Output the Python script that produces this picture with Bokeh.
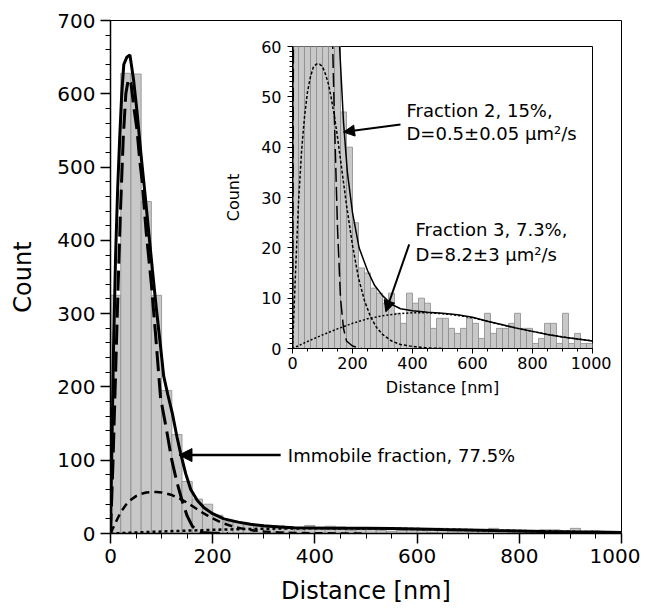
from bokeh.plotting import figure
from bokeh.models import ColumnDataSource, SingleIntervalTicker, Label, Arrow, NormalHead, Range1d
from bokeh.layouts import column
from bokeh.embed import file_html
from bokeh.resources import INLINE

FONT = "DejaVu Sans"

# ---- data ----
bin_width = 20
bin_left = list(range(0, 1000, 20))
counts = [325, 628, 627, 453, 325, 195, 135, 71, 47, 40,
          25, 16, 15, 12, 11, 9, 11, 7, 5, 11,
          9, 10, 9, 4, 6, 6, 4, 3, 4, 6,
          5, 2, 7, 3, 4, 4, 5, 7, 4, 4,
          1, 2, 5, 5, 1, 7, 1, 3, 1, 1]

total_x = [0, 3, 6, 10, 14, 18, 22, 26, 32, 38, 45, 52, 60, 68, 75, 82, 90, 98, 104, 112, 121,
           130, 137, 147, 157, 170, 183, 200, 222, 250, 274, 300, 330, 360, 400, 450, 500,
           550, 600, 650, 700, 750, 800, 850, 900, 950, 1000]
total_y = [0, 130, 255, 380, 470, 540, 600, 640, 650, 653, 620, 575, 515, 460, 410, 360, 305, 255, 215, 190, 164,
           132, 110, 82, 60, 45, 35, 27, 20, 15.5, 12.5, 10.5, 8.8, 7.9, 7.5, 7.2, 7.0,
           6.7, 6.2, 5.4, 4.7, 4.0, 3.4, 2.8, 2.3, 1.9, 1.5]

immobile_x = [0, 5, 10, 15, 20, 25, 30, 35, 40, 46, 52, 57, 62, 70, 80, 88, 98, 110, 120, 130,
              140, 150, 160, 170, 180, 200, 230]
immobile_y = [0, 100, 220, 340, 450, 540, 600, 620, 615, 580, 550, 510, 480, 410, 340, 273, 185, 140, 100, 70,
              45, 24, 10, 4, 1.5, 0.5, 0]

frac2_x = [0, 10, 20, 30, 40, 50, 60, 70, 80, 90, 100, 110, 120, 130, 140, 150, 160, 170, 180, 190,
           200, 220, 240, 260, 280, 300, 330, 360, 400, 450, 500]
frac2_y = [0, 15, 29, 39, 46, 51, 54, 56, 56.5, 56.5, 56, 54.5, 52.5, 49.5, 46, 42, 37.5, 33, 28.5, 24.5,
           20.5, 14, 9.5, 6.3, 4.2, 2.8, 1.5, 0.8, 0.4, 0.1, 0]

frac3_x = [0, 50, 100, 150, 200, 250, 300, 350, 400, 450, 500, 550, 600, 650, 700, 750, 800,
           850, 900, 950, 1000]
frac3_y = [0, 1.4, 2.7, 3.9, 5.0, 5.9, 6.5, 6.9, 7.1, 7.1, 6.9, 6.6, 6.1, 5.4, 4.7, 4.0, 3.4,
           2.8, 2.3, 1.9, 1.5]

hist = ColumnDataSource(dict(left=bin_left,
                             right=[b + bin_width for b in bin_left],
                             count=counts))


def style(p, tick_px, label_px, tick_out, minor_out, lw):
    p.grid.visible = False
    p.outline_line_color = "black"
    p.outline_line_width = 1
    p.background_fill_color = "white"
    for ax in (p.xaxis[0], p.yaxis[0]):
        ax.major_label_text_font = FONT
        ax.major_label_text_font_size = tick_px
        ax.major_label_text_color = "black"
        ax.axis_label_text_font = FONT
        ax.axis_label_text_font_size = label_px
        ax.axis_label_text_font_style = "normal"
        ax.axis_label_text_color = "black"
        ax.major_tick_in = 0
        ax.major_tick_out = tick_out
        ax.minor_tick_in = 0
        ax.minor_tick_out = minor_out
        ax.axis_line_width = lw
        ax.major_tick_line_width = lw
        ax.minor_tick_line_width = 1
        ax.axis_line_color = "black"


# ---- main figure ----
p = figure(width=640, height=611, x_range=Range1d(0, 1000), y_range=Range1d(0, 700),
           output_backend="svg", toolbar_location=None,
           min_border_left=110, min_border_right=19, min_border_top=20, min_border_bottom=78,
           x_axis_label="Distance [nm]", y_axis_label="Count")
style(p, "20px", "24px", 10, 5, 1.5)
p.border_fill_color = "white"
p.xaxis.ticker = SingleIntervalTicker(interval=200, num_minor_ticks=4)
p.yaxis.ticker = SingleIntervalTicker(interval=100, num_minor_ticks=5)
p.xaxis.major_label_standoff = 5
p.xaxis.axis_label_standoff = 11
p.yaxis.major_label_standoff = 5
p.yaxis.axis_label_standoff = 17

p.quad(left="left", right="right", bottom=0, top="count", source=hist,
       fill_color="#c8c8c8", line_color="#8c8c8c", line_width=0.8)
p.line(frac3_x, frac3_y, line_color="black", line_width=2.5, line_dash="3 3")
p.line(frac2_x, frac2_y, line_color="black", line_width=2.5, line_dash="8 5")
p.line(immobile_x, immobile_y, line_color="black", line_width=3, line_dash="20 7")
p.line(total_x, total_y, line_color="black", line_width=3)

p.add_layout(Arrow(end=NormalHead(size=13, fill_color="black", line_color="black"),
                   x_start=333, y_start=107, x_end=134, y_end=107,
                   line_color="black", line_width=2.5))
p.add_layout(Label(x=347, y=107, text="Immobile fraction, 77.5%", text_baseline="middle",
                   text_font=FONT, text_font_size="18px", text_color="black"))

# ---- inset figure (same horizontal borders as the main one) ----
q = figure(width=429, height=365, x_range=Range1d(0, 1000), y_range=Range1d(0, 60),
           output_backend="svg", toolbar_location=None,
           min_border_left=110, min_border_right=19, min_border_top=12, min_border_bottom=48,
           x_axis_label="Distance [nm]", y_axis_label="Count")
style(q, "16px", "16px", 5, 3, 1)
q.border_fill_alpha = 0
q.xaxis.ticker = SingleIntervalTicker(interval=200, num_minor_ticks=4)
q.yaxis.ticker = SingleIntervalTicker(interval=10, num_minor_ticks=10)
q.xaxis.major_label_standoff = 3
q.xaxis.axis_label_standoff = 6
q.yaxis.major_label_standoff = 6
q.yaxis.axis_label_standoff = 15

q.quad(left="left", right="right", bottom=0, top="count", source=hist,
       fill_color="#c8c8c8", line_color="#8c8c8c", line_width=0.8)
q.line(frac3_x, frac3_y, line_color="black", line_width=1.5, line_dash="2 2")
q.line(frac2_x, frac2_y, line_color="black", line_width=1.5, line_dash="3 2")
q.line(immobile_x, immobile_y, line_color="black", line_width=1.5, line_dash="14 5")
q.line(total_x, total_y, line_color="black", line_width=1.5)

q.add_layout(Arrow(end=NormalHead(size=11, fill_color="black", line_color="black"),
                   x_start=360, y_start=44.5, x_end=170, y_end=43,
                   line_color="black", line_width=2))
q.add_layout(Label(x=380, y=47.3, text="Fraction 2, 15%,", text_baseline="middle",
                   text_font=FONT, text_font_size="18px", text_color="black"))
q.add_layout(Label(x=380, y=42.8, text="D=0.5±0.05 μm²/s", text_baseline="middle",
                   text_font=FONT, text_font_size="18px", text_color="black"))

q.add_layout(Arrow(end=NormalHead(size=11, fill_color="black", line_color="black"),
                   x_start=389, y_start=20.7, x_end=311, y_end=7.3,
                   line_color="black", line_width=2))
q.add_layout(Label(x=410, y=23.6, text="Fraction 3, 7.3%,", text_baseline="middle",
                   text_font=FONT, text_font_size="18px", text_color="black"))
q.add_layout(Label(x=410, y=18.7, text="D=8.2±3 μm²/s", text_baseline="middle",
                   text_font=FONT, text_font_size="18px", text_color="black"))

q.styles = {"position": "absolute", "left": "182px", "top": "34px"}

layout = column(p, q, width=640, height=611)
open("out.html", "w").write(file_html(layout, INLINE))
